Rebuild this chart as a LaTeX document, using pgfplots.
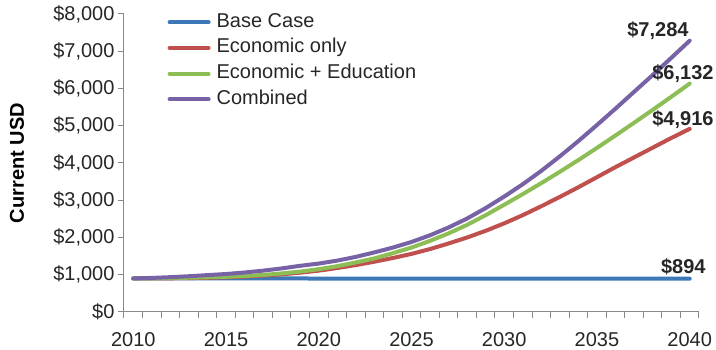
\documentclass[border=0pt]{standalone}
\usepackage{pgfplots}
\pgfplotsset{compat=1.18}
\usepackage{fontspec}
\setmainfont{Liberation Sans}

\definecolor{baseblue}{HTML}{3C78B8}
\definecolor{econred}{HTML}{C0504D}
\definecolor{edugreen}{HTML}{8DBE55}
\definecolor{combpurple}{HTML}{7862A6}
\definecolor{axisgray}{HTML}{898989}
\definecolor{txt}{HTML}{262626}

\begin{document}
\begin{tikzpicture}
\begin{axis}[
    scale only axis,
    width=575pt,
    height=298pt,
    font=\fontsize{20}{24}\selectfont,
    xmin=2009.5, xmax=2040.5,
    ymin=0, ymax=8000,
    axis x line=bottom,
    axis y line=left,
    axis line style={axisgray, line width=1pt, -},
    xtick={2010,2015,...,2040},
    minor xtick={2009.5,2010.5,...,2040.5},
    ytick={0,1000,...,8000},
    tick align=outside,
    major tick length=6pt,
    minor tick length=6pt,
    tick style={axisgray, line width=1pt},
    major x tick style={draw=none},
    /pgf/number format/assume math mode=true,
    xticklabel style={/pgf/number format/1000 sep={}, text=txt, yshift=-11pt},
    yticklabel={\$\pgfmathprintnumber[1000 sep={,}]{\tick}},
    yticklabel style={text=txt},
    ylabel={Current USD},
    ylabel style={font=\fontsize{20}{24}\selectfont\bfseries, text=black,
        at={(axis description cs:-0.186,0.5)}, anchor=center},
    clip=false,
    legend style={at={(0.0755,1.010)}, anchor=north west, draw=none, fill=none,
        inner sep=0pt, row sep=3.7pt, column sep=4pt, text=txt,
        font=\fontsize{20}{24}\selectfont,
        nodes={text height=14pt, text depth=4pt, inner sep=2pt}},
    legend cell align=left,
    legend image code/.code={\draw[#1, line cap=round] (0pt,0pt) -- (39pt,0pt);},
    every axis plot/.append style={line width=4pt, line cap=round, line join=round},
]

\addplot[baseblue] coordinates {
    (2010,903) (2015,901) (2020,899) (2025,898) (2030,896) (2035,895) (2040,894)
};

\addplot[econred] coordinates {
    (2010,900) (2011,902) (2012,905) (2013,910) (2014,918) (2015,930)
    (2016,950) (2017,975) (2018,1010) (2019,1055) (2020,1110)
    (2021,1180) (2022,1260) (2023,1350) (2024,1450) (2025,1560)
    (2026,1690) (2027,1840) (2028,2000) (2029,2180) (2030,2380)
    (2031,2600) (2032,2840) (2033,3090) (2034,3350) (2035,3620)
    (2036,3890) (2037,4150) (2038,4410) (2039,4670) (2040,4916)
};

\addplot[edugreen] coordinates {
    (2010,900) (2011,905) (2012,912) (2013,920) (2014,932) (2015,945)
    (2016,965) (2017,995) (2018,1035) (2019,1085) (2020,1150)
    (2021,1230) (2022,1330) (2023,1440) (2024,1580) (2025,1730)
    (2026,1910) (2027,2110) (2028,2340) (2029,2600) (2030,2880)
    (2031,3165) (2032,3460) (2033,3765) (2034,4080) (2035,4405)
    (2036,4740) (2037,5080) (2038,5425) (2039,5775) (2040,6132)
};

\addplot[combpurple] coordinates {
    (2010,900) (2011,915) (2012,935) (2013,960) (2014,990) (2015,1020)
    (2016,1060) (2017,1110) (2018,1170) (2019,1240) (2020,1300)
    (2021,1380) (2022,1480) (2023,1600) (2024,1730) (2025,1880)
    (2026,2060) (2027,2270) (2028,2510) (2029,2790) (2030,3100)
    (2031,3430) (2032,3790) (2033,4180) (2034,4590) (2035,5020)
    (2036,5460) (2037,5910) (2038,6360) (2039,6820) (2040,7284)
};

\legend{Base Case, Economic only, Economic + Education, Combined}

\node[anchor=base east, inner sep=0pt, font=\fontsize{20}{24}\selectfont\bfseries, text=txt,
    xshift=-1pt, yshift=4pt] at (axis cs:2040,7284) {\$7,284};
\node[anchor=base east, inner sep=0pt, font=\fontsize{20}{24}\selectfont\bfseries, text=txt,
    xshift=24pt, yshift=4pt] at (axis cs:2040,6132) {\$6,132};
\node[anchor=base east, inner sep=0pt, font=\fontsize{20}{24}\selectfont\bfseries, text=txt,
    xshift=24pt, yshift=3pt] at (axis cs:2040,4916) {\$4,916};
\node[anchor=base east, inner sep=0pt, font=\fontsize{20}{24}\selectfont\bfseries, text=txt,
    xshift=16pt, yshift=5pt] at (axis cs:2040,894) {\$894};
\end{axis}
\pgfresetboundingbox
\path[use as bounding box] ([xshift=-124pt,yshift=-38pt]current axis.south west)
    rectangle ([xshift=592pt,yshift=312pt]current axis.south west);
\end{tikzpicture}
\end{document}
